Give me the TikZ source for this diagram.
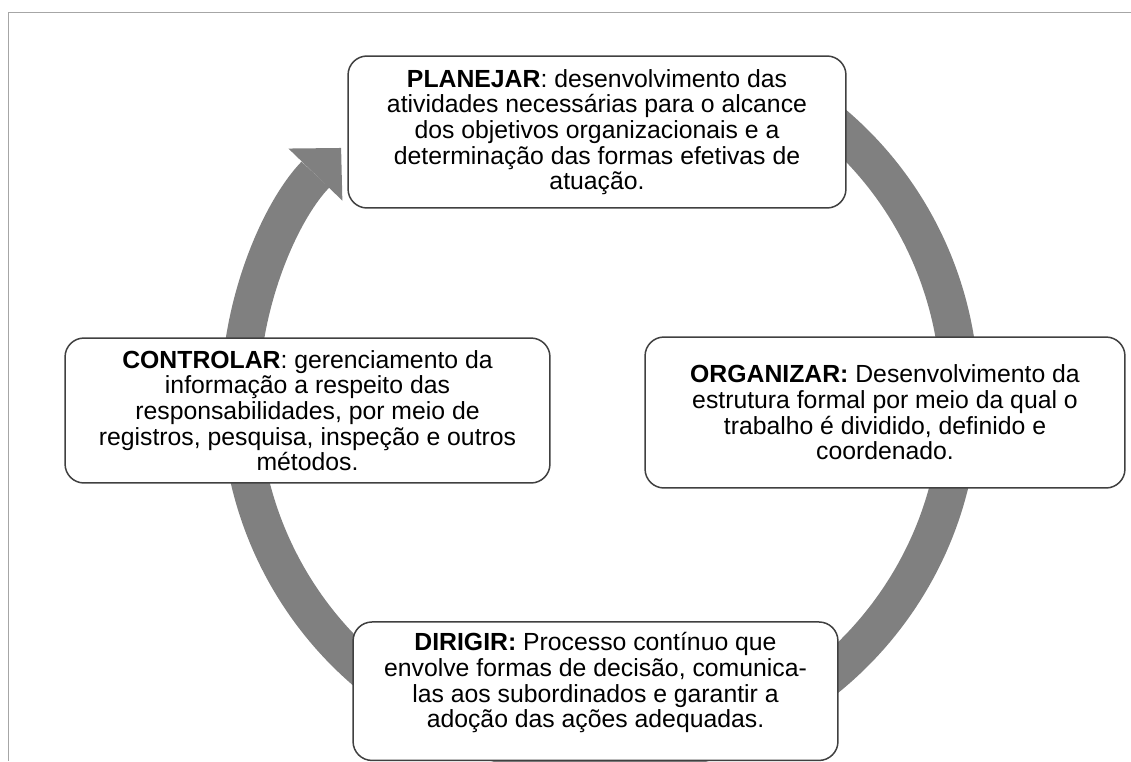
\documentclass[tikz,border=0pt]{standalone}
\usepackage{fontspec}
\setmainfont{Liberation Sans}
\usetikzlibrary{arrows.meta}

\begin{document}
\begin{tikzpicture}[x=0.02cm,y=-0.02cm,
  caixa/.style={draw=black!75,line width=0.85pt,fill=white,rounded corners=0.38cm,align=center,font=\fontsize{14.1pt}{14.6pt}\selectfont},
  anel/.style={draw=black!50,line width=0.76cm},
  moldura/.style={draw=black!35,line width=0.85pt}]
\useasboundingbox (0,0) rectangle (1131,761);
\draw[moldura] (1131,12.5) -| (8.5,761);
\coordinate (mitte) at (600,398);
\draw[anel,-{Triangle[length=0.74cm,width=1.5cm,line width=0pt]}] (mitte) ++(55:7.2cm) arc[start angle=55,end angle=-224,radius=7.2cm];
\node[caixa,minimum width=9.96cm,minimum height=3.04cm] (planejar) at (597,132) {\textbf{PLANEJAR}: desenvolvimento das\\atividades necessárias para o alcance\\dos objetivos organizacionais e a\\determinação das formas efetivas de\\atuação.};
\node[caixa,minimum width=9.6cm,minimum height=3.02cm] (organizar) at (885,412.5) {\textbf{ORGANIZAR:} Desenvolvimento da\\estrutura formal por meio da qual o\\trabalho é dividido, definido e\\coordenado.};
\node[caixa,minimum width=9.7cm,minimum height=2.9cm] (controlar) at (307.5,410.5) {\textbf{CONTROLAR}: gerenciamento da\\informação a respeito das\\responsabilidades, por meio de\\registros, pesquisa, inspeção e outros\\métodos.};
\node[caixa,minimum width=9.7cm,minimum height=2.77cm,text depth=12.5pt] (dirigir) at (595.5,691.2) {\textbf{DIRIGIR:} Processo contínuo que\\envolve formas de decisão, comunica-\\las aos subordinados e garantir a\\adoção das ações adequadas.};
\end{tikzpicture}
\end{document}
